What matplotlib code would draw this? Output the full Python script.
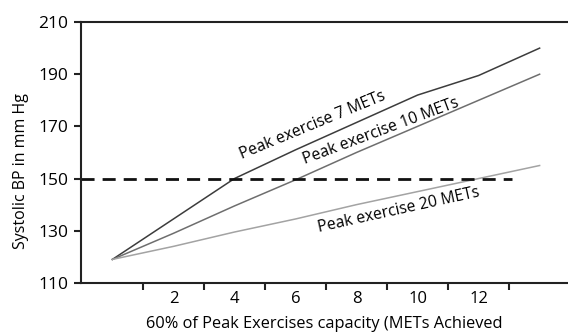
import numpy as np
import matplotlib.pyplot as plt

# values
mets = [0, 2, 4, 6, 8, 10, 12, 14]
bp_peak7 = [119, 134.5, 150, 161, 171.5, 182, 189.5, 200]
bp_peak10 = [119, 129, 139.5, 149.5, 160, 170, 180, 190]
bp_peak20 = [119, 124, 129.5, 134.5, 140, 145, 150, 155]
threshold = 150
threshold_x = [-1.04, 13.1]
xtick_labels = ['2', '4', '6', '8', '10', '12']
yticks = [110, 130, 150, 170, 190, 210]

plt.rcParams['font.family'] = ['Open Sans', 'DejaVu Sans']

fig = plt.figure(figsize=(5.68, 3.34), dpi=100)
ax = fig.add_axes([0.142, 0.153, 0.858, 0.781])

ax.plot(mets, bp_peak7, color='#3c3c3c', lw=1.1)
ax.plot(mets, bp_peak10, color='#6e6e6e', lw=1.1)
ax.plot(mets, bp_peak20, color='#a3a3a3', lw=1.1)
ax.plot(threshold_x, [threshold, threshold], color='#111111', lw=2.0,
        dashes=(4.7, 2.9))

# labels along the curves
ax.text(6.55, 170.2, 'Peak exercise 7 METs', rotation=22.5, ha='center',
        va='center', fontsize=11.3, rotation_mode='anchor')
ax.text(8.8, 168.0, 'Peak exercise 10 METs', rotation=20.5, ha='center',
        va='center', fontsize=11.3, rotation_mode='anchor')
ax.text(9.4, 137.8, 'Peak exercise 20 METs', rotation=12.5, ha='center',
        va='center', fontsize=11.3, rotation_mode='anchor')

ax.set_xlim(-1.04, 14.93)
ax.set_ylim(110, 210)
ax.set_yticks(yticks)

# category style axis: marks between categories, labels on them
ax.set_xticks(np.arange(1, 14, 2))
ax.set_xticklabels([])
ax.set_xticks([2, 4, 6, 8, 10, 12], minor=True)
ax.set_xticklabels(xtick_labels, minor=True)
ax.tick_params(axis='x', which='minor', length=0, pad=6, labelsize=12)
ax.tick_params(axis='x', which='major', length=5, width=1.5, color='#222222')
ax.tick_params(axis='y', length=5, width=1.5, color='#222222', labelsize=12.5, pad=4)

for side in ['left', 'bottom', 'top']:
    ax.spines[side].set_linewidth(1.5)
    ax.spines[side].set_color('#222222')
ax.spines['right'].set_visible(False)

ax.set_ylabel('Systolic BP in mm Hg', fontsize=11.5)
ax.yaxis.set_label_coords(-0.105, 0.43)
ax.set_xlabel('60% of Peak Exercises capacity (METs Achieved', fontsize=11.8,
              labelpad=6)

fig.savefig('out.png', dpi=100)
